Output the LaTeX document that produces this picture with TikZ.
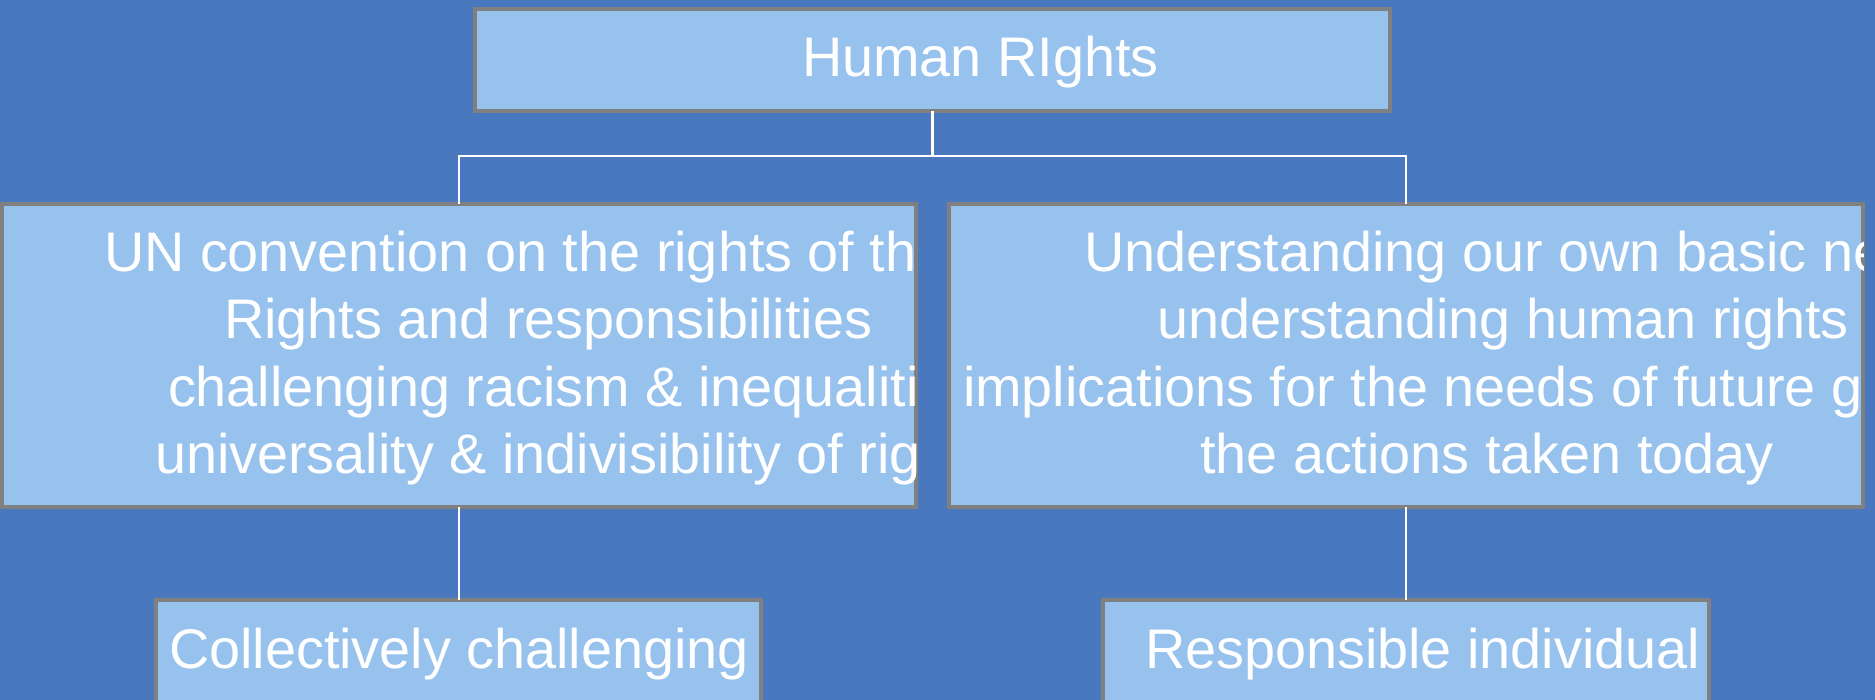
\documentclass[tikz,border=0pt]{standalone}
\usepackage{fontspec}
\setmainfont{Liberation Sans}
\definecolor{bgblue}{RGB}{74,120,190}
\definecolor{boxfill}{RGB}{151,194,238}
\definecolor{boxline}{RGB}{128,128,128}
\begin{document}
\begin{tikzpicture}[x=1pt,y=-1pt,
  box/.style={draw=boxline,fill=boxfill,line width=3.8pt,rectangle,inner sep=0pt,outer sep=0pt},
  txt/.style={anchor=base west,inner sep=0pt,outer sep=0pt,text=white,font=\fontsize{55.8}{67}\selectfont},
  conn/.style={draw=white,line width=2.4pt}]
\useasboundingbox (0,0) rectangle (1875,700);
\clip (0,0) rectangle (1875,700);
\fill[bgblue] (0,0) rectangle (1875,700);
% boxes
\node[box,minimum width=915pt,minimum height=102pt] (top) at (932.5,60) {};
\node[box,minimum width=914pt,minimum height=303pt] (L) at (459,355.5) {};
\node[box,minimum width=914pt,minimum height=303pt] (R) at (1406,355.5) {};
\node[box,minimum width=605pt,minimum height=120pt] (BL) at (458.5,660) {};
\node[box,minimum width=606pt,minimum height=120pt] (BR) at (1406,660) {};
% connectors
\draw[conn] (top.south) -- ++(0,45) coordinate (mid) -| (L.north);
\draw[conn] (mid) -| (R.north);
\draw[conn] (L.south) -- (L.south |- BL.north);
\draw[conn] (R.south) -- (R.south |- BR.north);
% texts
\node[txt] (ttop) at (802,77) {Human RIghts};
\begin{scope}
\clip (L.south west) rectangle (L.north east);
\node[txt] (l1) at (104,272) {UN convention on the rights of the child};
\node[txt] (l2) at (224,339) {Rights and responsibilities};
\node[txt] (l3) at (168,407) {challenging racism \& inequalities};
\node[txt] (l4) at (155,474) {universality \& indivisibility of rights};
\end{scope}
\begin{scope}
\clip (R.south west) rectangle (R.north east);
\node[txt] (r1) at (1084,272) {Understanding our own basic needs};
\node[txt] (r2) at (1157,339) {understanding human rights};
\node[txt] (r3) at (963,407) {implications for the needs of future generations};
\node[txt] (r4) at (1200,474) {the actions taken today};
\end{scope}
\node[txt] (bl) at (169,668) {Collectively challenging};
\node[txt] (br) at (1145,668) {Responsible individual};
\end{tikzpicture}
\end{document}
